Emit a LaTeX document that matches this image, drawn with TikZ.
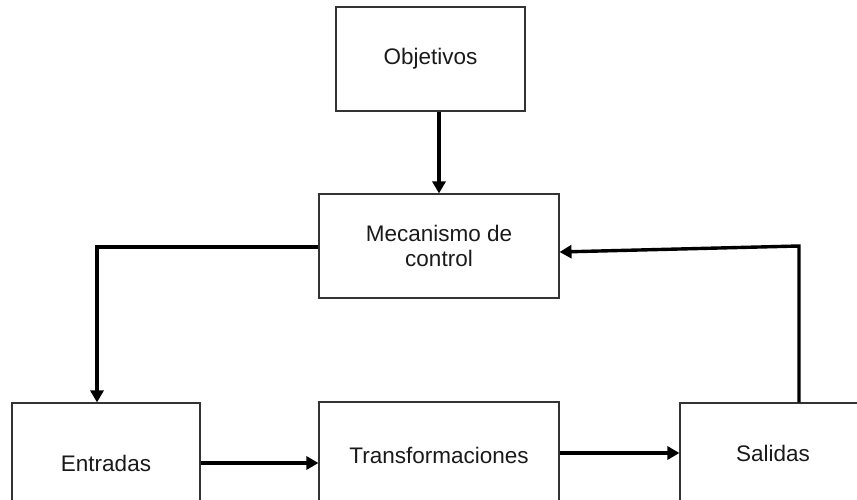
\documentclass[tikz,border=0pt]{standalone}
\usepackage{fontspec}
\setmainfont{Liberation Sans}
\usetikzlibrary{arrows.meta}
\definecolor{boxline}{HTML}{333333}
\definecolor{txt}{HTML}{1A1A1A}
\begin{document}
\begin{tikzpicture}[x=1pt,y=-1pt,
  box/.style={draw=boxline,line width=1.1pt,rectangle,inner sep=0pt,align=center,
    text=txt,font=\fontsize{22.5}{25}\selectfont},
  conn/.style={line width=3.4pt,draw=black,-{Triangle[length=12pt,width=13pt]}}]
\useasboundingbox (0,0) rectangle (857,500);
\clip (0,0) rectangle (857,500);
\node[box,minimum width=189pt,minimum height=104pt] (obj) at (430.5,59) {Objetivos};
\node[box,minimum width=240pt,minimum height=104pt] (mec) at (439,246) {Mecanismo de\\control};
\node[box,minimum width=188pt,minimum height=120pt] (ent) at (106,463) {Entradas};
\node[box,minimum width=240pt,minimum height=106pt] (tra) at (439,455) {Transformaciones};
\node[box,minimum width=186pt,minimum height=100pt] (sal) at (773,453) {Salidas};
\coordinate (lbend) at (97,247);
\coordinate (rbend) at (799,246);
\draw[conn] (obj.south -| mec.north) -- (mec.north);
\draw[conn,line join=miter] (mec.west |- lbend) -- (lbend) -- (ent.north -| lbend);
\draw[conn] (ent.east) -- (ent.east -| tra.west);
\draw[conn] (tra.east |- sal.west) -- (sal.west);
\draw[conn,line join=miter] (sal.north -| rbend) -- (rbend) -- ([yshift=-6pt]mec.east);
\end{tikzpicture}
\end{document}
